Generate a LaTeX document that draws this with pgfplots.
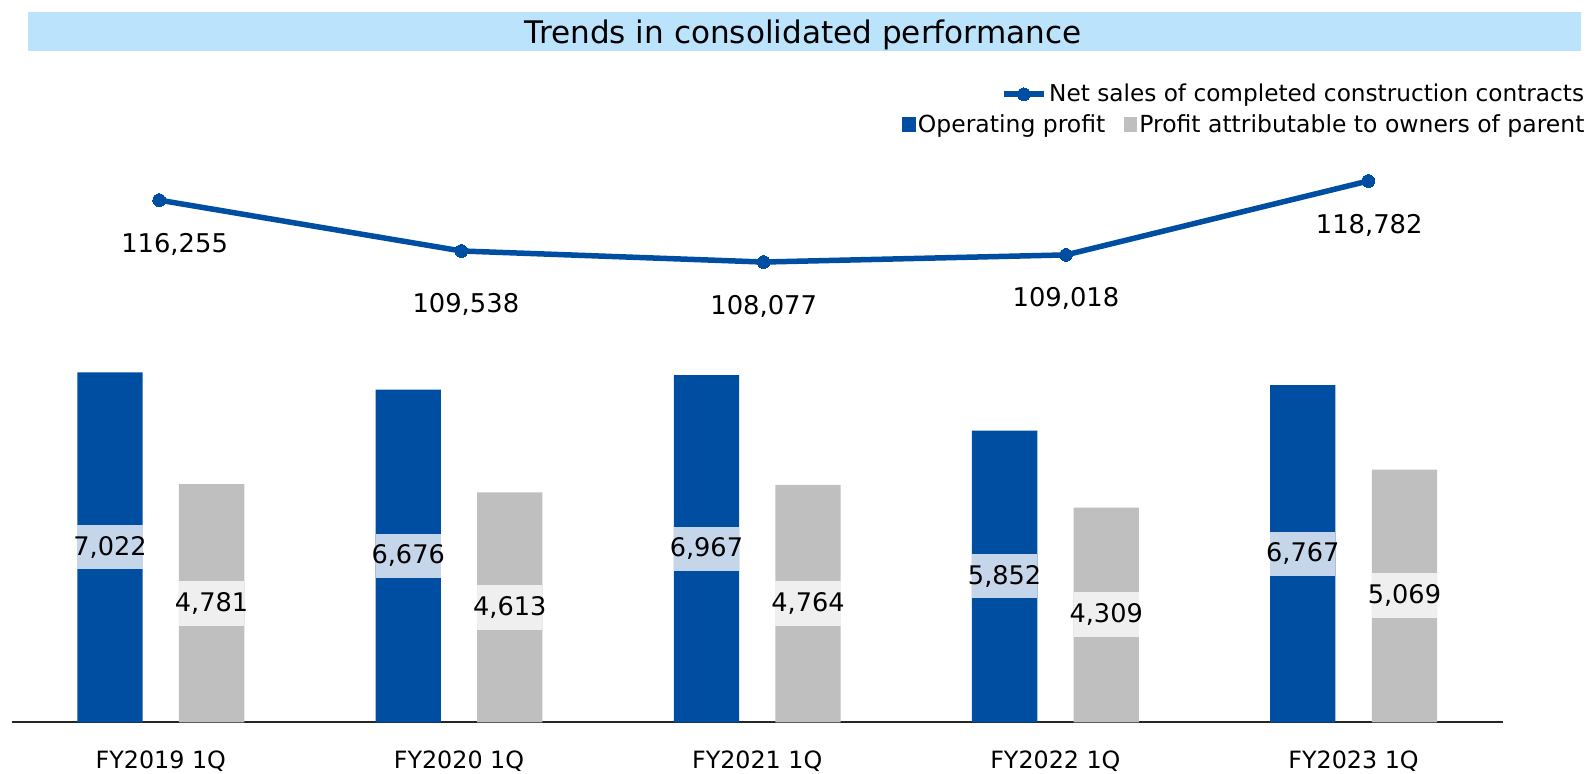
\documentclass[border=0pt]{standalone}
\usepackage{fontspec}
\setmainfont{DejaVu Sans}
\usepackage{pgfplots}
\usepackage{pgfplotstable}
\pgfplotsset{compat=1.18}
\definecolor{cblue}{RGB}{0,78,162}
\definecolor{cgray}{RGB}{191,191,191}
\definecolor{lblue}{RGB}{197,213,234}
\definecolor{lgray}{RGB}{239,239,239}
\definecolor{band}{RGB}{187,228,252}
\pgfplotsset{
  sqleg/.style={legend image code/.code={\fill[##1] (0pt,-3.9pt) rectangle (6.8pt,3.9pt);}},
  lnleg/.style={legend image code/.code={\draw[mark repeat=2,mark phase=2,##1] plot coordinates {(0pt,0pt) (10pt,0pt) (20pt,0pt)};}},
}

\pgfplotstableread{
x op oplab pr prlab
0 7022 7,022 4781 4,781
1 6676 6,676 4613 4,613
2 6967 6,967 4764 4,764
3 5852 5,852 4309 4,309
4 6767 6,767 5069 5,069
}\bars
\pgfplotstableread{
x ns nslab dy dx
0 116255 116,255 -22.3 7.7
1 109538 109,538 -26.5 2.2
2 108077 108,077 -22 0
3 109018 109,018 -22 0
4 118782 118,782 -22 0.5
}\sales

\begin{document}
\begin{tikzpicture}
\path[use as bounding box] (0,0) rectangle (794.5pt,386.5pt);
\fill[band] (14.2pt,361.15pt) rectangle (790.5pt,380.4pt);
\node[anchor=base, font=\fontsize{15.55pt}{18pt}\selectfont, inner sep=0pt] at (401.5pt,364.8pt) {Trends in consolidated performance};

\begin{axis}[
  at={(5.85pt,25.35pt)}, anchor=south west,
  scale only axis, width=745.5pt, height=311.15pt,
  xmin=-0.5, xmax=4.5, ymin=0, ymax=12485,
  clip=false,
  axis x line=bottom, axis y line=none,
  x axis line style={-, line width=1pt, color=black!85},
  xtick={0,1,2,3,4},
  xticklabels={FY2019 1Q,FY2020 1Q,FY2021 1Q,FY2022 1Q,FY2023 1Q},
  major tick length=0pt, ytick=\empty,
  xticklabel style={anchor=base, yshift=-22.9pt, font=\fontsize{11.9pt}{14pt}\selectfont},
  legend columns=2,
  legend style={at={(axis description cs:1.0566,0.9605)}, anchor=east, draw=none, fill=none, inner sep=0pt,
    font=\fontsize{11.75pt}{14pt}\selectfont,
    nodes={inner xsep=1.1pt, inner ysep=0pt},
    /tikz/every even column/.append style={column sep=8pt}},
  legend cell align=left,
]
\addplot[ybar, bar width=32.65pt, bar shift=-25.4pt, fill=cblue, draw=none, sqleg]
  table[x=x,y=op]{\bars};
\addlegendentry{Operating profit}
\addplot[ybar, bar width=32.65pt, bar shift=25.4pt, fill=cgray, draw=none, sqleg]
  table[x=x,y=pr]{\bars};
\addlegendentry{Profit attributable to owners of parent}

\addplot[forget plot, only marks, mark=none,
  nodes near coords={\makebox[32.65pt]{\pgfplotspointmeta}}, point meta=explicit symbolic,
  every node near coord/.append style={anchor=center, xshift=-25.4pt, fill=lblue,
    minimum height=22pt, inner sep=0pt, text=black,
    font=\fontsize{12.8pt}{14pt}\selectfont}]
  table[x=x, y expr=\thisrow{op}/2, meta=oplab]{\bars};
\addplot[forget plot, only marks, mark=none,
  nodes near coords={\makebox[32.65pt]{\pgfplotspointmeta}}, point meta=explicit symbolic,
  every node near coord/.append style={anchor=center, xshift=25.4pt, fill=lgray,
    minimum height=22.5pt, inner sep=0pt, text=black,
    font=\fontsize{12.8pt}{14pt}\selectfont}]
  table[x=x, y expr=\thisrow{pr}/2, meta=prlab]{\bars};
\end{axis}

\begin{axis}[
  at={(5.85pt,25.35pt)}, anchor=south west,
  scale only axis, width=745.5pt, height=311.15pt,
  xmin=-0.488, xmax=4.445, ymin=47276, ymax=129482,
  clip=false, hide axis,
  legend style={at={(axis description cs:1.0566,1.0093)}, anchor=east, draw=none, fill=none, inner sep=0pt,
    font=\fontsize{11.6pt}{14pt}\selectfont,
    nodes={inner xsep=1.3pt, inner ysep=0pt}},
]
\addplot[color=cblue, line width=2.75pt, line join=round, mark=*, mark size=3.2pt,
  mark options={solid, line width=0pt}, lnleg,
  nodes near coords, point meta=explicit symbolic,
  visualization depends on={\thisrow{dy} \as \dy},
  visualization depends on={\thisrow{dx} \as \dx},
  every node near coord/.append style={anchor=center, yshift=\dy pt, xshift=\dx pt, text=black,
    font=\fontsize{12.9pt}{14pt}\selectfont}]
  table[x=x, y=ns, meta=nslab]{\sales};
\addlegendentry{Net sales of completed construction contracts}
\end{axis}
\end{tikzpicture}
\end{document}
